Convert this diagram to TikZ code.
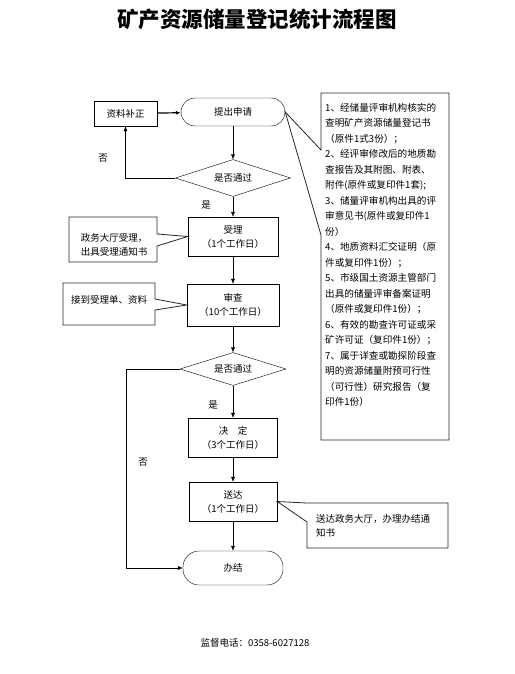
\documentclass[tikz,border=0pt]{standalone}
\usepackage{fontspec}
\setmainfont{Noto Sans CJK SC}
\usetikzlibrary{arrows.meta,shapes.geometric}
\begin{document}
\begin{tikzpicture}[
  x=1pt, y=-1pt,
  every node/.style={font=\fontsize{9.5}{14}\selectfont, align=center},
  box/.style={draw, rectangle, inner sep=0pt},
  term/.style={draw, rectangle, rounded corners=14pt, inner sep=0pt},
  dec/.style={draw, diamond, aspect=3, inner sep=0pt},
  lab/.style={inner sep=0pt},
  arr/.style={-{Latex[length=5pt,width=4pt]}},
  callout/.style={line width=0.8pt, draw=black!85}
]
  \useasboundingbox (0,0) rectangle (514,674);

  \node[lab, font=\fontsize{21.5}{24}\selectfont\bfseries] (title) at (257,19) {矿产资源储量登记统计流程图};

  \node[box, minimum width=63pt, minimum height=25pt]  (buzheng)  at (125.5,113.5) {资料补正};
  \node[term, minimum width=104pt, minimum height=28pt] (shenqing) at (233,112)    {提出申请};
  \node[dec, minimum width=115pt, minimum height=37pt]  (pass1)    at (233,178)    {是否通过};
  \node[box, minimum width=90pt, minimum height=39pt]   (shouli)   at (233,236.5)  {受理\\（1个工作日）};
  \node[box, minimum width=92pt, minimum height=42pt]   (shencha)  at (233,305)    {审查\\（10个工作日）};
  \node[dec, minimum width=106pt, minimum height=33pt]  (pass2)    at (233,369)    {是否通过};
  \node[box, minimum width=89pt, minimum height=39pt]   (jueding)  at (233,437.5)  {决\quad 定\\（3个工作日）};
  \node[box, minimum width=88pt, minimum height=39pt]   (songda)   at (233,501.5)  {送达\\（1个工作日）};
  \node[term, minimum width=100pt, minimum height=34pt, rounded corners=16pt] (banjie) at (233,568) {办结};

  \coordinate (turn) at (126,369);

  \draw[arr, line width=1.2pt] (buzheng) -- (shenqing);
  \draw[arr] (shenqing) -- (pass1);
  \draw[arr] (pass1) -- (shouli);
  \draw[arr] (pass1.west) -| (buzheng.south);
  \draw[arr] (shouli) -- (shencha);
  \draw[arr] (shencha) -- (pass2);
  \draw[arr] (pass2) -- (jueding);
  \draw[arr] (jueding) -- (songda);
  \draw[arr] (songda) -- (banjie);
  \draw[arr] (pass2.west) -- (turn) |- (banjie.west);

  \node[lab] (no1)  at (103,158) {否};
  \node[lab] (yes1) at (206,205) {是};
  \node[lab] (yes2) at (213,405) {是};
  \node[lab] (no2)  at (143,462) {否};

  \draw[callout] (69,217) -- (157,217) -- (157,234) -- (shouli.west) -- (157,246) -- (157,262) -- (69,262) -- cycle;
  \node[lab] (note1) at (114,245) {政务大厅受理，\\出具受理通知书};

  \draw[callout] (63,283) -- (155,283) -- (155,299) -- (shencha.west) -- (155,310) -- (155,325) -- (63,325) -- cycle;
  \node[lab] (note2) at (109,300) {接到受理单、资料};

  \draw[callout] (307,503) -- (448,503) -- (448,548) -- (307,548) -- (307,522) -- (songda.east) -- cycle;
  \node[lab, anchor=west, align=left, font=\fontsize{9.5}{14}\selectfont] (note3) at (316,526) {送达政务大厅，办理办结通\\知书};

  \draw[callout] (321,93) -- (449,93) -- (449,440) -- (321,440) -- (321,235) -- (shenqing.east) -- (321,150) -- cycle;
  \node[lab, anchor=north west, align=left, font=\fontsize{9.6}{15.5}\selectfont] (note4) at (325,103) {%
1、经储量评审机构核实的\\
查明矿产资源储量登记书\\
（原件1式3份）；\\
2、经评审修改后的地质勘\\
查报告及其附图、附表、\\
附件(原件或复印件1套);\\
3、储量评审机构出具的评\\
审意见书(原件或复印件1\\
份）\\
4、地质资料汇交证明（原\\
件或复印件1份）；\\
5、市级国土资源主管部门\\
出具的储量评审备案证明\\
（原件或复印件1份）；\\
6、有效的勘查许可证或采\\
矿许可证（复印件1份）；\\
7、属于详查或勘探阶段查\\
明的资源储量附预可行性\\
（可行性）研究报告（复\\
印件1份）};

  \node[lab] (phone) at (255,643) {监督电话：0358-6027128};
\end{tikzpicture}
\end{document}
